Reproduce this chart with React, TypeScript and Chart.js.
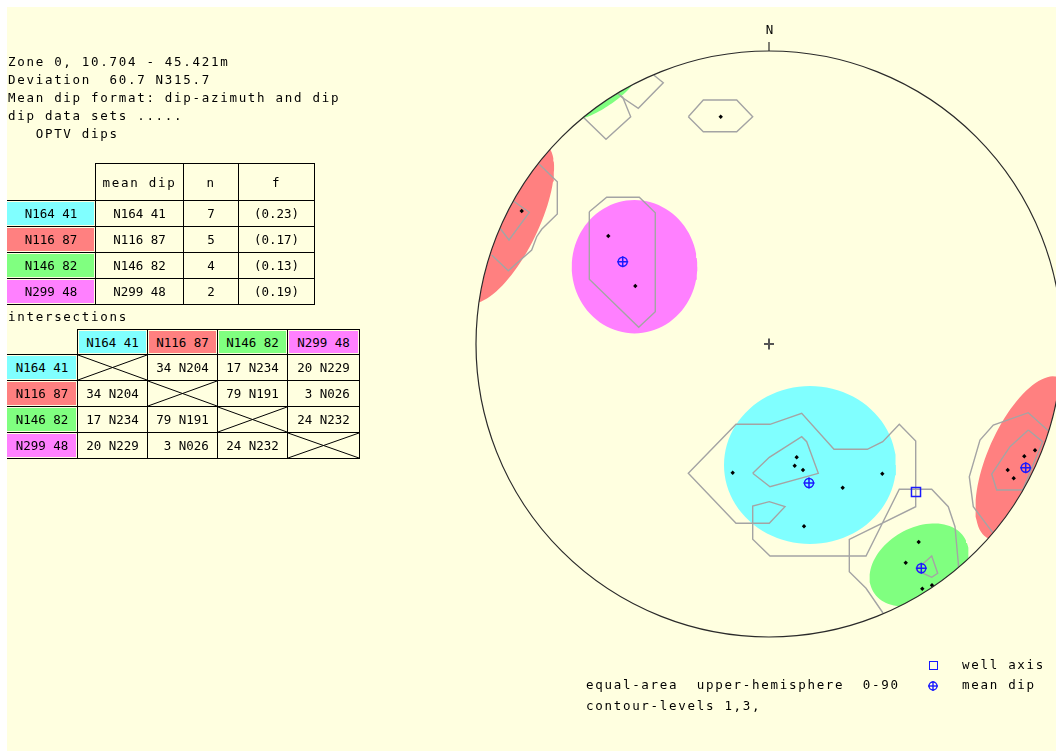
import React, { useEffect, useRef } from "react";
import { Chart, registerables } from "chart.js";

Chart.register(...registerables);

// ---------------- data ----------------
const setNames = ["N164 41", "N116 87", "N146 82", "N299 48"];
const meanDips = ["N164 41", "N116 87", "N146 82", "N299 48"];
const counts = [7, 5, 4, 2];
const fValues = ["(0.23)", "(0.17)", "(0.13)", "(0.19)"];
const intersections = [
  ["", "34 N204", "17 N234", "20 N229"],
  ["34 N204", "", "79 N191", " 3 N026"],
  ["17 N234", "79 N191", "", "24 N232"],
  ["20 N229", " 3 N026", "24 N232", ""],
];
const headerLines = [
  "Zone 0, 10.704 - 45.421m",
  "Deviation  60.7 N315.7",
  "Mean dip format: dip-azimuth and dip",
  "dip data sets .....",
  "   OPTV dips",
];
const footerLines = ["equal-area  upper-hemisphere  0-90", "contour-levels 1,3,"];
const legendLabels = ["well axis", "mean dip"];

// projected coordinates (equal-area net, primitive radius = 100)
const NET_RADIUS = 100;
const polesCyan = [
  [-12.39, -43.93], [9.45, -38.67], [8.77, -41.54], [11.6, -43.0],
  [25.15, -49.04], [38.67, -44.27], [11.95, -62.22],
];
const polesRed = [
  [-84.4, 45.39], [90.79, -36.28], [87.13, -38.33], [81.47, -43.0], [83.52, -45.84],
];
const polesGreen = [
  [51.09, -67.58], [46.66, -74.64], [52.32, -83.52], [55.63, -82.36],
];
const polesMagenta = [[-54.85, 36.86], [-45.63, 19.8]];
const polesOther = [[-16.48, 77.58]];
const meanDipPoints = [[13.65, -47.44], [87.61, -42.22], [51.98, -76.55], [-49.93, 28.09]];
const wellAxis = [[50.17, -50.51]];

// confidence cones: set index, centre, semi-axes, rotation (deg)
const coneSet = [3, 0, 2, 2, 1, 1];
const coneX = [-45.9, 13.99, 51.2, -56.4, 87.03, -89.76];
const coneY = [26.38, -41.3, -75.43, 84.6, -38.91, 41.3];
const coneA = [21.43, 29.35, 18.09, 13.2, 30.03, 30.03];
const coneB = [22.76, 26.96, 12.63, 3.6, 12.29, 10.92];
const coneRot = [0, 0, 30, 34, 66, 64];

// density contours (levels 1, 3)
const contours = [
  [[-27.54, 77.58], [-22.42, 83.28], [-11.02, 83.28], [-5.56, 77.58], [-11.02, 72.46], [-22.42, 72.46], [-27.54, 77.58]],
  [[-63.38, 77.37], [-55.63, 69.86], [-47.2, 77.58], [-49.93, 84.2], [-51.88, 85.67]],
  [[-50.85, 84.64], [-44.61, 80.44], [-36.08, 89.18], [-39.25, 91.71]],
  [[-78.5, 61.43], [-72.25, 55.39], [-72.25, 44.37], [-77.58, 39.15], [-79.28, 36.62], [-80.99, 32.08], [-88.98, 25.02], [-94.64, 30.38]],
  [[-87.27, 48.81], [-81.81, 44.95], [-88.74, 35.5], [-91.81, 39.49]],
  [[-61.33, 45.15], [-55.39, 50.07], [-44.27, 50.07], [-38.81, 44.81], [-38.81, 11.02], [-44.47, 5.7], [-61.33, 22.08], [-61.33, 45.15]],
  [[38.91, -91.81], [33.11, -83.38], [27.41, -77.71], [27.41, -66.66], [50.07, -55.53], [50.07, -33.11], [44.47, -27.41], [38.81, -33.35], [33.55, -35.94], [22.18, -35.94], [11.16, -23.65], [0.34, -27.41], [-11.26, -27.41], [-27.54, -44.13], [-11.26, -61.19], [0.1, -61.19], [5.46, -55.53], [0.1, -53.82], [-5.56, -55.29], [-5.56, -66.66], [0.34, -72.36], [33.11, -72.36], [44.47, -49.59], [55.53, -49.59], [61.19, -55.53], [63.48, -62.36], [64.61, -74.85], [64.68, -76.11]],
  [[-5.56, -44.13], [0.1, -38.67], [11.16, -31.64], [12.87, -33.35], [16.83, -44.13], [0.34, -48.7], [-5.56, -44.13]],
  [[76.35, -64.4], [69.73, -55.53], [68.36, -45.29], [72.01, -32.76], [76.55, -27.65], [88.5, -23.45], [95.32, -29.59], [99.32, -34.47]],
  [[88.5, -29.35], [93.41, -33.35], [86.59, -49.83], [77.71, -49.83], [76.01, -44.37], [82.25, -35.05], [88.5, -29.35]],
  [[50.17, -77.13], [55.53, -72.36], [57.58, -78.26], [55.53, -79.63], [50.17, -77.13]],
];

// ---------------- styles / layout ----------------
const SET_COLORS = ["#80ffff", "#ff8080", "#80ff80", "#ff80ff"];
const BG = "#ffffe0";
const BLUE = "#1a1aff";
const FONT = '"DejaVu Sans Mono", monospace';
const W = 1049;
const H = 744;
const OX = 7; // wrapper page offset
const OY = 7;
const CENTER_PX = [769 - OX, 344 - OY];
const RADIUS_PX = 293;

const toXY = (arr: number[][]) => arr.map(([x, y]) => ({ x, y }));

function conePolygon(i: number) {
  const pts: { x: number; y: number }[] = [];
  const th = (coneRot[i] * Math.PI) / 180;
  const n = 96;
  for (let k = 0; k <= n; k++) {
    const t = (k / n) * Math.PI * 2;
    const ca = coneA[i] * Math.cos(t);
    const sb = coneB[i] * Math.sin(t);
    pts.push({
      x: coneX[i] + ca * Math.cos(th) - sb * Math.sin(th),
      y: coneY[i] + ca * Math.sin(th) + sb * Math.cos(th),
    });
  }
  return pts;
}

const netPlugin = {
  id: "stereonet",
  beforeDatasetsDraw(chart: any) {
    const { ctx, scales } = chart;
    const cx = scales.x.getPixelForValue(0);
    const cy = scales.y.getPixelForValue(0);
    const r = scales.x.getPixelForValue(NET_RADIUS) - cx;
    ctx.save();
    ctx.beginPath();
    ctx.arc(cx, cy, r, 0, Math.PI * 2);
    ctx.clip();
  },
  afterDatasetsDraw(chart: any) {
    const { ctx, scales } = chart;
    ctx.restore();
    const cx = scales.x.getPixelForValue(0);
    const cy = scales.y.getPixelForValue(0);
    const r = scales.x.getPixelForValue(NET_RADIUS) - cx;
    ctx.save();
    ctx.strokeStyle = "#2a2a2a";
    ctx.lineWidth = 1.2;
    ctx.beginPath();
    ctx.arc(cx, cy, r, 0, Math.PI * 2);
    ctx.stroke();
    ctx.beginPath();
    ctx.moveTo(cx, cy - r);
    ctx.lineTo(cx, cy - r - 9);
    ctx.stroke();
    ctx.strokeStyle = "#555";
    ctx.lineWidth = 2;
    ctx.beginPath();
    ctx.moveTo(cx - 5, cy);
    ctx.lineTo(cx + 5, cy);
    ctx.moveTo(cx, cy - 5.5);
    ctx.lineTo(cx, cy + 5.5);
    ctx.stroke();
    ctx.fillStyle = "#000";
    ctx.font = "12.5px " + FONT;
    ctx.textAlign = "center";
    ctx.textBaseline = "middle";
    ctx.fillText("N", cx + 0.5, cy - r - 20);
    ctx.restore();
  },
};

type CellProps = {
  l: number; t: number; r: number; b: number;
  fill?: string; text?: string; cross?: boolean; noLeft?: boolean; ls?: number;
};

function Cell({ l, t, r, b, fill, text, cross, noLeft, ls = 0 }: CellProps) {
  return (
    <div
      style={{
        position: "absolute",
        left: l - OX,
        top: t - OY,
        width: r - l + 1,
        height: b - t + 1,
        boxSizing: "border-box",
        border: "1px solid #000",
        borderLeft: noLeft ? "none" : "1px solid #000",
      }}
    >
      {fill && (
        <div
          style={{
            position: "absolute",
            left: noLeft ? 0 : 1,
            top: 1,
            right: 1,
            bottom: 1,
            background: fill,
          }}
        />
      )}
      {cross && (
        <svg
          viewBox="0 0 100 100"
          preserveAspectRatio="none"
          style={{ position: "absolute", left: 0, top: 0, width: "100%", height: "100%" }}
        >
          <line x1="0" y1="0" x2="100" y2="100" stroke="#000" strokeWidth="1" vectorEffect="non-scaling-stroke" />
          <line x1="0" y1="100" x2="100" y2="0" stroke="#000" strokeWidth="1" vectorEffect="non-scaling-stroke" />
        </svg>
      )}
      {text !== undefined && (
        <div
          style={{
            position: "absolute",
            left: 0,
            top: 0,
            right: 0,
            bottom: 0,
            display: "flex",
            alignItems: "center",
            justifyContent: "center",
            whiteSpace: "pre",
            letterSpacing: ls,
          }}
        >
          {text}
        </div>
      )}
    </div>
  );
}

const T1_COLS = [7, 95, 183, 238, 314];
const T1_ROWS = [163, 200, 226, 252, 278, 304];
const T2_COLS = [7, 77, 147, 217, 287, 359];
const T2_ROWS = [329, 354, 380, 406, 432, 458];

export default function App() {
  const ref = useRef<HTMLCanvasElement>(null);

  useEffect(() => {
    document.documentElement.style.overflow = "hidden";
    document.body.style.margin = OY + "px 0 0 " + OX + "px";
    const unit = RADIUS_PX / NET_RADIUS;
    const xMin = -CENTER_PX[0] / unit;
    const xMax = xMin + W / unit;
    const yMax = CENTER_PX[1] / unit;
    const yMin = yMax - H / unit;

    const datasets: any[] = [];
    coneSet.forEach((s, i) => {
      datasets.push({
        type: "line",
        data: conePolygon(i),
        showLine: true,
        fill: "shape",
        backgroundColor: SET_COLORS[s],
        borderColor: "rgba(0,0,0,0)",
        borderWidth: 0,
        pointRadius: 0,
        tension: 0,
        order: 10,
      });
    });
    contours.forEach((c) => {
      datasets.push({
        type: "line",
        data: toXY(c),
        showLine: true,
        fill: false,
        borderColor: "#a4a4a4",
        borderWidth: 1.4,
        pointRadius: 0,
        tension: 0,
        order: 5,
      });
    });
    [polesCyan, polesRed, polesGreen, polesMagenta, polesOther].forEach((p) => {
      datasets.push({
        type: "scatter",
        data: toXY(p),
        pointStyle: "rectRot",
        pointRadius: 2.2,
        backgroundColor: "#000",
        borderColor: "#000",
        borderWidth: 0,
        order: 2,
      });
    });
    datasets.push({
      type: "scatter",
      data: toXY(meanDipPoints),
      pointStyle: "circle",
      pointRadius: 4.5,
      backgroundColor: "rgba(0,0,0,0)",
      borderColor: BLUE,
      borderWidth: 1.5,
      order: 1,
    });
    datasets.push({
      type: "scatter",
      data: toXY(meanDipPoints),
      pointStyle: "cross",
      pointRadius: 5.5,
      borderColor: BLUE,
      borderWidth: 1.5,
      order: 0,
    });
    datasets.push({
      type: "scatter",
      data: toXY(wellAxis),
      pointStyle: "rect",
      pointRadius: 6.4,
      backgroundColor: "rgba(0,0,0,0)",
      borderColor: BLUE,
      borderWidth: 1.5,
      order: 0,
    });

    const chart = new Chart(ref.current!, {
      type: "scatter",
      data: { datasets },
      options: {
        animation: false,
        responsive: false,
        events: [],
        layout: { padding: 0, autoPadding: false },
        plugins: { legend: { display: false }, tooltip: { enabled: false } },
        scales: {
          x: { type: "linear", min: xMin, max: xMax, display: false },
          y: { type: "linear", min: yMin, max: yMax, display: false },
        },
      },
      plugins: [netPlugin],
    } as any);
    return () => chart.destroy();
  }, []);

  const cells: React.ReactNode[] = [];
  // table 1 header
  ["mean dip", "n", "f"].forEach((h, c) => {
    cells.push(
      <Cell key={"h1" + c} l={T1_COLS[c + 1]} t={T1_ROWS[0]} r={T1_COLS[c + 2]} b={T1_ROWS[1]} text={h} ls={1.7} />
    );
  });
  setNames.forEach((name, i) => {
    const t = T1_ROWS[i + 1];
    const b = T1_ROWS[i + 2];
    cells.push(<Cell key={"l1" + i} l={T1_COLS[0]} t={t} r={T1_COLS[1]} b={b} fill={SET_COLORS[i]} text={name} noLeft />);
    cells.push(<Cell key={"m1" + i} l={T1_COLS[1]} t={t} r={T1_COLS[2]} b={b} text={meanDips[i]} />);
    cells.push(<Cell key={"n1" + i} l={T1_COLS[2]} t={t} r={T1_COLS[3]} b={b} text={String(counts[i])} />);
    cells.push(<Cell key={"f1" + i} l={T1_COLS[3]} t={t} r={T1_COLS[4]} b={b} text={fValues[i]} />);
  });
  // table 2
  setNames.forEach((name, c) => {
    cells.push(
      <Cell key={"h2" + c} l={T2_COLS[c + 1]} t={T2_ROWS[0]} r={T2_COLS[c + 2]} b={T2_ROWS[1]} fill={SET_COLORS[c]} text={name} />
    );
  });
  setNames.forEach((name, rI) => {
    const t = T2_ROWS[rI + 1];
    const b = T2_ROWS[rI + 2];
    cells.push(<Cell key={"l2" + rI} l={T2_COLS[0]} t={t} r={T2_COLS[1]} b={b} fill={SET_COLORS[rI]} text={name} noLeft />);
    intersections[rI].forEach((v, c) => {
      cells.push(
        <Cell key={"d2" + rI + "_" + c} l={T2_COLS[c + 1]} t={t} r={T2_COLS[c + 2]} b={b} text={rI === c ? undefined : v} cross={rI === c} />
      );
    });
  });

  const textStyle: React.CSSProperties = {
    position: "absolute",
    whiteSpace: "pre",
    letterSpacing: 1.7,
    lineHeight: "18px",
  };

  return (
    <div
      style={{
        position: "relative",
        width: W,
        height: H,
        background: BG,
        overflow: "hidden",
        fontFamily: FONT,
        fontSize: 12.5,
        color: "#000",
      }}
    >
      <canvas ref={ref} width={W} height={H} style={{ position: "absolute", left: 0, top: 0, width: W, height: H }} />
      <div style={{ ...textStyle, left: 8 - OX, top: 53 - OY }}>
        {headerLines.map((l, i) => (
          <div key={i}>{l}</div>
        ))}
      </div>
      <div style={{ ...textStyle, left: 8 - OX, top: 308 - OY }}>intersections</div>
      {cells}
      <div style={{ ...textStyle, left: 586 - OX, top: 676 - OY }}>
        {footerLines.map((l, i) => (
          <div key={i} style={{ height: i === 0 ? 21 : 18 }}>{l}</div>
        ))}
      </div>
      <div
        style={{
          position: "absolute",
          left: 929 - OX,
          top: 661 - OY,
          width: 9,
          height: 9,
          boxSizing: "border-box",
          border: "1.5px solid " + BLUE,
        }}
      />
      <svg width="12" height="12" style={{ position: "absolute", left: 927 - OX, top: 680 - OY }}>
        <circle cx="6" cy="6" r="4" fill="none" stroke={BLUE} strokeWidth="1.4" />
        <line x1="1" y1="6" x2="11" y2="6" stroke={BLUE} strokeWidth="1.4" />
        <line x1="6" y1="1" x2="6" y2="11" stroke={BLUE} strokeWidth="1.4" />
      </svg>
      <div style={{ ...textStyle, left: 962 - OX, top: 656 - OY }}>{legendLabels[0]}</div>
      <div style={{ ...textStyle, left: 962 - OX, top: 676 - OY }}>{legendLabels[1]}</div>
    </div>
  );
}
